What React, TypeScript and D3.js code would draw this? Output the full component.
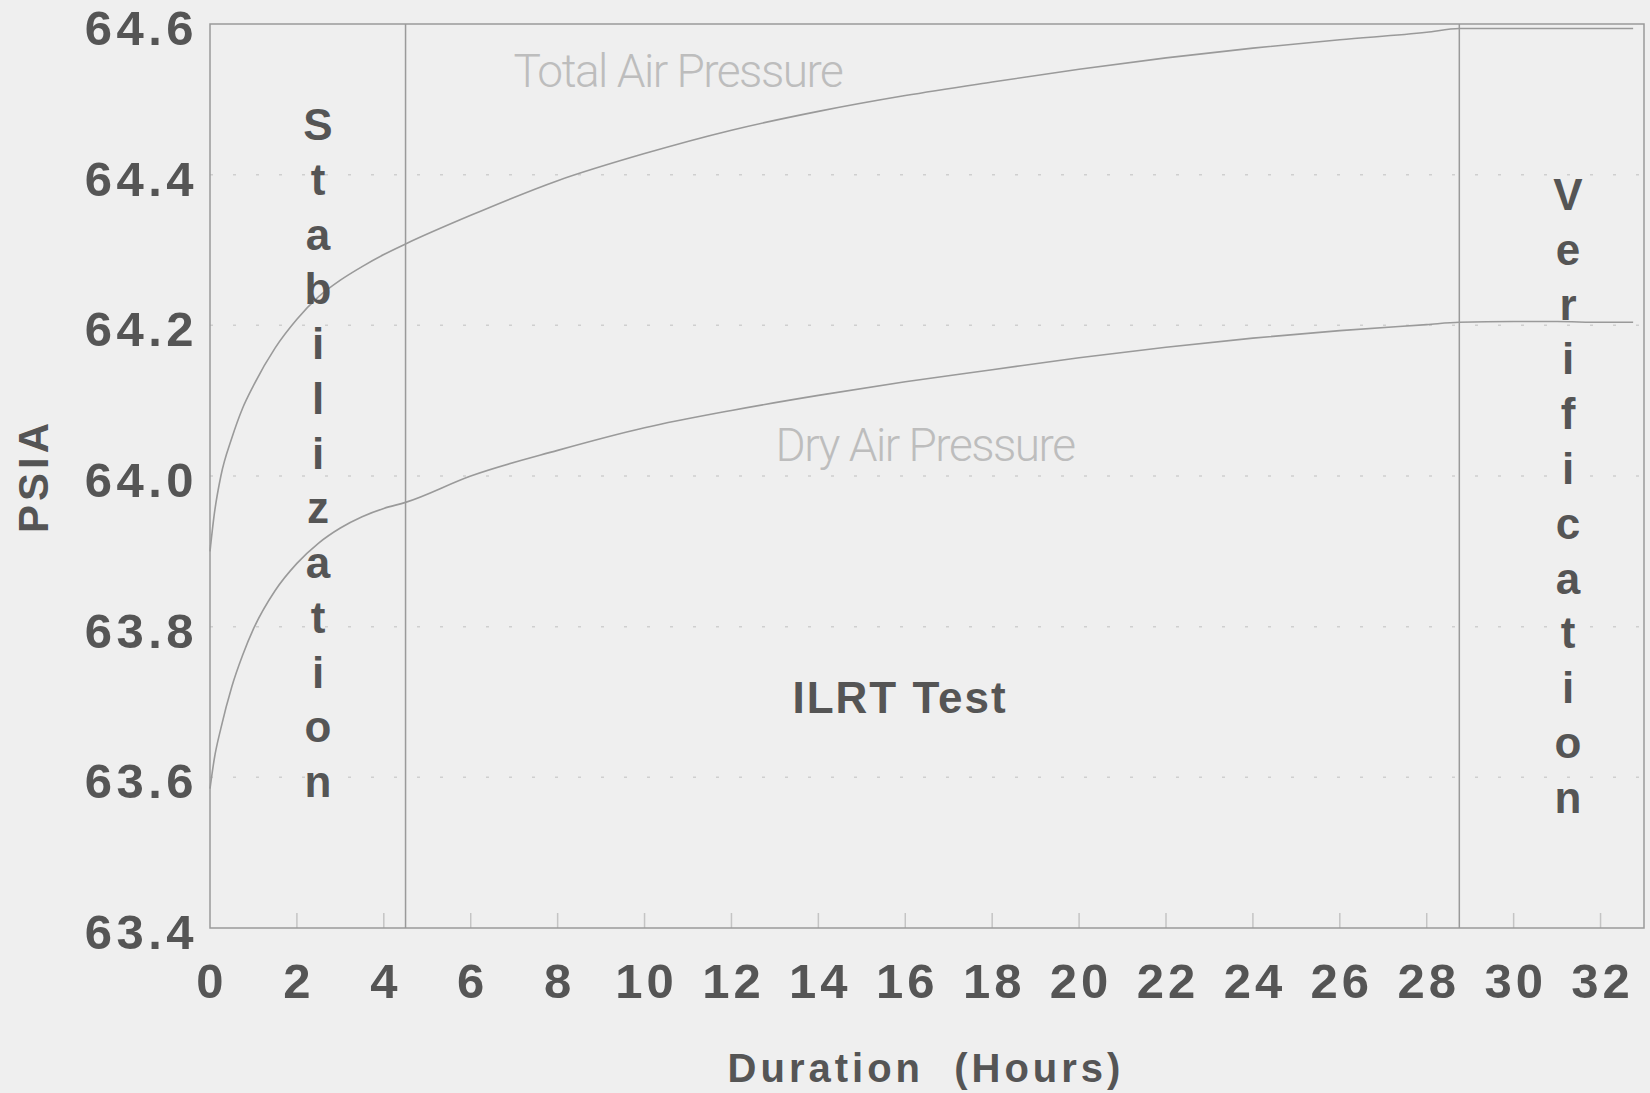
import React from "react";
import * as d3 from "d3";

const hours = [0, 0.1, 0.25, 0.5, 0.75, 1, 1.5, 2, 2.5, 3, 3.5, 4, 4.5, 6, 8, 10, 12, 14, 16, 18, 20, 22, 24, 26, 28, 28.75, 30, 31, 32, 32.75];
const totalAir = [63.9, 63.95, 64.0, 64.05, 64.09, 64.12, 64.17, 64.208, 64.238, 64.26, 64.278, 64.294, 64.308, 64.346, 64.392, 64.428, 64.459, 64.484, 64.505, 64.523, 64.54, 64.555, 64.568, 64.579, 64.589, 64.594, 64.594, 64.594, 64.594, 64.594];
const dryAir = [63.585, 63.625, 63.665, 63.72, 63.762, 63.797, 63.848, 63.884, 63.911, 63.931, 63.946, 63.957, 63.965, 64.0, 64.034, 64.064, 64.087, 64.107, 64.125, 64.141, 64.157, 64.171, 64.183, 64.193, 64.201, 64.204, 64.205, 64.205, 64.204, 64.204];

const xTicks = [0, 2, 4, 6, 8, 10, 12, 14, 16, 18, 20, 22, 24, 26, 28, 30, 32];
const yTicks = [63.4, 63.6, 63.8, 64.0, 64.2, 64.4, 64.6];
const phaseBounds = [4.5, 28.75];
const stabilizationLabel = "Stabilization";
const verificationLabel = "Verification";

const W = 1650;
const H = 1093;
const FONT = "'Liberation Sans', Arial, Helvetica, sans-serif";
const LIGHT_FONT = "Roboto, 'Liberation Sans', Arial, sans-serif";

export default function App() {
  const x = d3.scaleLinear().domain([0, 33]).range([210, 1644]);
  const y = d3.scaleLinear().domain([63.4, 64.6]).range([928, 24]);
  const line = d3
    .line<number>()
    .x((_, i) => x(hours[i]))
    .y((d) => y(d))
    .curve(d3.curveMonotoneX);

  const textCol = "#555";
  const lineCol = "#9a9a9a";

  return (
    <svg
      width={W}
      height={H}
      style={{ position: "absolute", left: 0, top: 0, display: "block" }}
    >
      <rect x={0} y={0} width={W} height={H} fill="#efefef" />

      {/* grid */}
      {yTicks.slice(1, -1).map((t) => (
        <line
          key={"g" + t}
          x1={x(0)}
          x2={x(33)}
          y1={y(t)}
          y2={y(t)}
          stroke="#cfcfcf"
          strokeWidth={1.5}
          strokeDasharray="3 20"
        />
      ))}

      {/* x minor ticks */}
      {xTicks.slice(1).map((t) => (
        <line
          key={"t" + t}
          x1={x(t)}
          x2={x(t)}
          y1={y(63.4)}
          y2={y(63.4) - 15}
          stroke="#c4c4c4"
          strokeWidth={1.5}
        />
      ))}

      {/* frame */}
      <rect
        x={x(0)}
        y={y(64.6)}
        width={x(33) - x(0)}
        height={y(63.4) - y(64.6)}
        fill="none"
        stroke={lineCol}
        strokeWidth={1.5}
      />
      {phaseBounds.map((b) => (
        <line
          key={"b" + b}
          x1={x(b)}
          x2={x(b)}
          y1={y(64.6)}
          y2={y(63.4)}
          stroke={lineCol}
          strokeWidth={1.5}
        />
      ))}

      {/* curves */}
      <path d={line(totalAir) || ""} fill="none" stroke={lineCol} strokeWidth={1.6} />
      <path d={line(dryAir) || ""} fill="none" stroke={lineCol} strokeWidth={1.6} />

      {/* y tick labels */}
      {yTicks.map((t) => (
        <text
          key={"yl" + t}
          x={198}
          y={y(t) + 21}
          textAnchor="end"
          fontFamily={FONT}
          fontWeight="bold"
          fontSize={49}
          letterSpacing={4.5}
          fill={textCol}
        >
          {t.toFixed(1)}
        </text>
      ))}

      {/* x tick labels */}
      {xTicks.map((t) => (
        <text
          key={"xl" + t}
          x={x(t) + 2}
          y={998}
          textAnchor="middle"
          fontFamily={FONT}
          fontWeight="bold"
          fontSize={49}
          letterSpacing={4}
          fill={textCol}
        >
          {t}
        </text>
      ))}

      {/* axis titles */}
      <text
        x={926}
        y={1082}
        textAnchor="middle"
        fontFamily={FONT}
        fontWeight="bold"
        fontSize={40}
        letterSpacing={4}
        fill={textCol}
        style={{ whiteSpace: "pre" }}
      >
        {"Duration  (Hours)"}
      </text>
      <text
        transform={`translate(48,476) rotate(-90)`}
        textAnchor="middle"
        fontFamily={FONT}
        fontWeight="bold"
        fontSize={42}
        letterSpacing={4}
        fill={textCol}
      >
        PSIA
      </text>

      {/* phase labels */}
      {stabilizationLabel.split("").map((c, i) => (
        <text
          key={"s" + i}
          x={318}
          y={140 + i * 54.75}
          textAnchor="middle"
          fontFamily={FONT}
          fontWeight="bold"
          fontSize={44}
          fill={textCol}
        >
          {c}
        </text>
      ))}
      {verificationLabel.split("").map((c, i) => (
        <text
          key={"v" + i}
          x={1568}
          y={210 + i * 54.8}
          textAnchor="middle"
          fontFamily={FONT}
          fontWeight="bold"
          fontSize={44}
          fill={textCol}
        >
          {c}
        </text>
      ))}
      <text
        x={900}
        y={713}
        textAnchor="middle"
        fontFamily={FONT}
        fontWeight="bold"
        fontSize={44}
        letterSpacing={2}
        fill={textCol}
      >
        ILRT Test
      </text>

      {/* series labels */}
      <text
        x={678}
        y={87}
        textAnchor="middle"
        fontFamily={LIGHT_FONT}
        fontWeight={300}
        fontSize={46}
        letterSpacing={-1.5}
        fill="#bdbdbd"
      >
        Total Air Pressure
      </text>
      <text
        x={925}
        y={461}
        textAnchor="middle"
        fontFamily={LIGHT_FONT}
        fontWeight={300}
        fontSize={46}
        letterSpacing={-1.5}
        fill="#bdbdbd"
      >
        Dry Air Pressure
      </text>
    </svg>
  );
}
